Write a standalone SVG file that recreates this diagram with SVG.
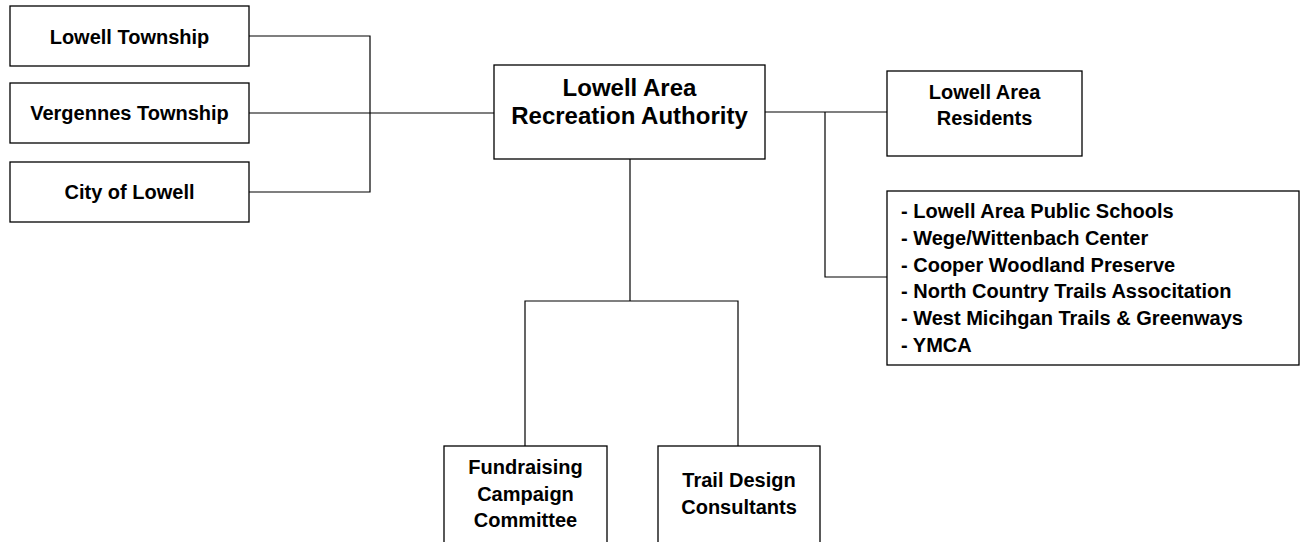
<svg xmlns="http://www.w3.org/2000/svg" width="1301" height="542" viewBox="0 0 1301 542">
<style>
.box{fill:#fff;stroke:#000;stroke-width:1.3}
.t{font-family:"Liberation Sans",Arial,sans-serif;font-weight:bold;fill:#000;text-anchor:middle}
.s20{font-size:20px}
.s24{font-size:24px}
.l{font-family:"Liberation Sans",Arial,sans-serif;font-weight:bold;fill:#000;font-size:20px}
.c{fill:none;stroke:#000;stroke-width:1.2}
</style>
<rect width="1301" height="542" fill="#fff"/>
<g id="connectors">
<polyline class="c" points="249,36 370,36 370,192 249,192"/>
<line class="c" x1="249" y1="113" x2="494" y2="113"/>
<line class="c" x1="765" y1="112" x2="887" y2="112"/>
<polyline class="c" points="825,112 825,277 887,277"/>
<line class="c" x1="630" y1="159" x2="630" y2="301"/>
<polyline class="c" points="525,446 525,301 738,301 738,446"/>
</g>
<g id="lowell-township">
<rect class="box" x="10" y="6" width="239" height="60"/>
<text class="t s20" x="129.5" y="44">Lowell Township</text>
</g>
<g id="vergennes-township">
<rect class="box" x="10" y="83" width="239" height="60"/>
<text class="t s20" x="129.5" y="120">Vergennes Township</text>
</g>
<g id="city-of-lowell">
<rect class="box" x="10" y="162" width="239" height="60"/>
<text class="t s20" x="129.5" y="199">City of Lowell</text>
</g>
<g id="lara">
<rect class="box" x="494" y="65" width="271" height="94"/>
<text class="t s24" x="629.5" y="96">Lowell Area</text>
<text class="t s24" x="629.5" y="124">Recreation Authority</text>
</g>
<g id="residents">
<rect class="box" x="887" y="71" width="195" height="85"/>
<text class="t s20" x="984.5" y="99">Lowell Area</text>
<text class="t s20" x="984.5" y="125">Residents</text>
</g>
<g id="partners">
<rect class="box" x="887" y="191" width="412" height="174"/>
<text class="l" x="901" y="218">- Lowell Area Public Schools</text>
<text class="l" x="901" y="245">- Wege/Wittenbach Center</text>
<text class="l" x="901" y="271.5">- Cooper Woodland Preserve</text>
<text class="l" x="901" y="298">- North Country Trails Associtation</text>
<text class="l" x="901" y="325">- West Micihgan Trails &amp; Greenways</text>
<text class="l" x="901" y="351.5">- YMCA</text>
</g>
<g id="fundraising">
<rect class="box" x="444" y="446" width="163" height="110"/>
<text class="t s20" x="525.5" y="474">Fundraising</text>
<text class="t s20" x="525.5" y="501">Campaign</text>
<text class="t s20" x="525.5" y="527">Committee</text>
</g>
<g id="trail-design">
<rect class="box" x="658" y="446" width="162" height="110"/>
<text class="t s20" x="739" y="487">Trail Design</text>
<text class="t s20" x="739" y="514">Consultants</text>
</g>
</svg>
